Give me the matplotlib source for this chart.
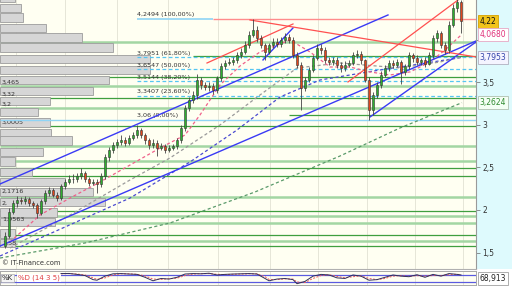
import matplotlib
matplotlib.use("Agg")
import matplotlib.pyplot as plt
from matplotlib.patches import Rectangle
import numpy as np

# candles (open, high, low, close), one per week
opens = [
    1.58, 1.70, 1.98, 2.08, 2.12, 2.10, 2.13, 2.08, 2.06, 1.97,
    2.10, 2.20, 2.23, 2.18, 2.14, 2.28, 2.33, 2.37, 2.36, 2.40,
    2.44, 2.36, 2.32, 2.33, 2.30, 2.40, 2.62, 2.70, 2.76, 2.80,
    2.82, 2.79, 2.85, 2.88, 2.94, 2.88, 2.82, 2.76, 2.79, 2.73,
    2.75, 2.71, 2.73, 2.75, 2.82, 2.96, 3.20, 3.29, 3.35, 3.53,
    3.47, 3.45, 3.46, 3.41, 3.55, 3.69, 3.73, 3.74, 3.76, 3.82,
    3.86, 3.94, 4.06, 4.12, 4.02, 3.94, 3.86, 3.94, 3.98, 3.95,
    4.00, 4.04, 4.00, 3.82, 3.71, 3.44, 3.53, 3.65, 3.79, 3.91,
    3.88, 3.76, 3.74, 3.76, 3.71, 3.67, 3.71, 3.73, 3.82, 3.84,
    3.76, 3.53, 3.18, 3.35, 3.47, 3.59, 3.67, 3.73, 3.71, 3.74,
    3.62, 3.69, 3.82, 3.79, 3.74, 3.76, 3.72, 3.82, 4.02, 4.08,
    3.94, 3.88, 4.18, 4.38, 4.45]
highs = [
    1.74, 2.02, 2.12, 2.16, 2.15, 2.17, 2.15, 2.11, 2.08, 2.13,
    2.24, 2.27, 2.26, 2.21, 2.31, 2.37, 2.41, 2.42, 2.44, 2.49,
    2.46, 2.39, 2.37, 2.36, 2.43, 2.66, 2.74, 2.80, 2.84, 2.88,
    2.86, 2.88, 2.92, 3.00, 2.97, 2.91, 2.85, 2.83, 2.82, 2.79,
    2.78, 2.76, 2.78, 2.85, 3.00, 3.24, 3.33, 3.40, 3.60, 3.56,
    3.51, 3.50, 3.49, 3.58, 3.73, 3.77, 3.79, 3.80, 3.86, 3.90,
    3.99, 4.10, 4.25, 4.16, 4.06, 3.97, 3.97, 4.02, 4.02, 4.04,
    4.08, 4.07, 4.03, 3.86, 3.74, 3.57, 3.68, 3.82, 3.95, 3.95,
    3.92, 3.80, 3.80, 3.80, 3.74, 3.75, 3.77, 3.86, 3.88, 3.87,
    3.78, 3.56, 3.39, 3.51, 3.63, 3.71, 3.77, 3.77, 3.78, 3.77,
    3.72, 3.86, 3.85, 3.82, 3.79, 3.80, 3.86, 4.06, 4.12, 4.10,
    3.98, 4.22, 4.42, 4.50, 4.47]
lows = [
    1.55, 1.67, 1.95, 2.04, 2.07, 2.07, 2.05, 2.02, 1.90, 1.94,
    2.07, 2.17, 2.15, 2.10, 2.12, 2.25, 2.30, 2.32, 2.33, 2.37,
    2.33, 2.28, 2.29, 2.20, 2.27, 2.37, 2.58, 2.67, 2.73, 2.77,
    2.75, 2.76, 2.82, 2.85, 2.85, 2.78, 2.72, 2.73, 2.64, 2.70,
    2.67, 2.68, 2.70, 2.72, 2.79, 2.93, 3.16, 3.26, 3.31, 3.42,
    3.41, 3.40, 3.37, 3.38, 3.52, 3.66, 3.70, 3.71, 3.73, 3.79,
    3.83, 3.91, 4.03, 3.98, 3.90, 3.76, 3.83, 3.90, 3.92, 3.92,
    3.97, 3.96, 3.79, 3.67, 3.18, 3.40, 3.50, 3.62, 3.76, 3.84,
    3.73, 3.70, 3.71, 3.67, 3.62, 3.64, 3.68, 3.70, 3.79, 3.72,
    3.50, 3.06, 3.12, 3.32, 3.44, 3.56, 3.64, 3.67, 3.68, 3.48,
    3.59, 3.66, 3.74, 3.70, 3.71, 3.68, 3.70, 3.79, 3.98, 3.90,
    3.84, 3.85, 4.15, 4.33, 4.08]
closes = [
    1.70, 1.98, 2.08, 2.12, 2.10, 2.13, 2.08, 2.06, 1.97, 2.10,
    2.20, 2.23, 2.18, 2.14, 2.28, 2.33, 2.37, 2.36, 2.40, 2.44,
    2.36, 2.32, 2.33, 2.30, 2.40, 2.62, 2.70, 2.76, 2.80, 2.82,
    2.79, 2.85, 2.88, 2.94, 2.88, 2.82, 2.76, 2.79, 2.73, 2.75,
    2.71, 2.73, 2.75, 2.82, 2.96, 3.20, 3.29, 3.35, 3.53, 3.47,
    3.45, 3.46, 3.41, 3.55, 3.69, 3.73, 3.74, 3.76, 3.82, 3.86,
    3.94, 4.06, 4.12, 4.02, 3.94, 3.86, 3.94, 3.98, 3.95, 4.00,
    4.04, 4.00, 3.82, 3.71, 3.44, 3.53, 3.65, 3.79, 3.91, 3.88,
    3.76, 3.74, 3.76, 3.71, 3.67, 3.71, 3.73, 3.82, 3.84, 3.76,
    3.53, 3.18, 3.35, 3.47, 3.59, 3.67, 3.73, 3.71, 3.74, 3.62,
    3.69, 3.82, 3.79, 3.74, 3.76, 3.72, 3.82, 4.02, 4.08, 3.94,
    3.88, 4.18, 4.38, 4.45, 4.22]

# moving averages at a few weeks
ma_short_x = [1.25, 8.75, 16.25, 23.75, 31.25, 38.75, 45, 48.75, 53.75, 58.75, 63.75,
              71.25, 76.25, 81.25, 86.25, 91.25, 96.25, 101.25, 106.25, 110, 114.25]
ma_short_y = [1.624, 1.941, 2.141, 2.329, 2.529, 2.729, 2.882, 3.118, 3.471, 3.694, 3.859,
              4.0, 3.859, 3.682, 3.682, 3.624, 3.588, 3.624, 3.741, 3.882, 4.068]
ma_mid_x = [1.25, 16.25, 31.25, 41.25, 53.75, 63.75, 73, 83.75, 98.75, 108.75, 114.25]
ma_mid_y = [1.553, 1.941, 2.353, 2.612, 3.0, 3.353, 3.671, 3.729, 3.671, 3.741, 3.80]
ma_blue_x = [-1.25, 15, 31.25, 46.25, 58, 68.75, 78.75, 93.75, 103.75, 114.25]
ma_blue_y = [1.459, 1.80, 2.141, 2.565, 2.941, 3.329, 3.529, 3.647, 3.718, 3.7953]
ma_long_x = [-1.25, 20, 41.25, 62.5, 83.75, 98.75, 114.25]
ma_long_y = [1.435, 1.612, 1.847, 2.212, 2.635, 2.965, 3.2624]

# support / resistance levels
level_values = [3.976, 3.812, 3.565, 3.459, 3.318, 3.20, 3.118, 2.988, 2.753, 2.576,
                2.494, 2.40, 2.153, 1.988, 1.929, 1.847, 1.706, 1.635, 1.576]
level_light = [1, 0, 0, 1, 0, 1, 0, 0, 1, 1, 0, 0, 1, 0, 1, 1, 0, 1, 0]
level_start = [-1.25, 47, -1.25, -1.25, -1.25, -1.25, 71, -1.25, -1.25, -1.25,
               -1.25, -1.25, -1.25, -1.25, -1.25, -1.25, -1.25, -1.25, -1.25]

# fibonacci retracement
fib_values = [4.2494, 3.7951, 3.6547, 3.5144, 3.3407, 3.06]
fib_labels = ["4,2494 (100,00%)", "3,7951 (61,80%)", "3,6547 (50,00%)",
              "3,5144 (38,20%)", "3,3407 (23,60%)", "3,06 (0,00%)"]

# trend lines: x0, y0, x1, y1
blue_lines = [(-1.25, 2.306, 95.75, 4.294), (-1.25, 1.576, 117.75, 3.988),
              (91.25, 3.094, 117.75, 3.976), (64.5, 3.765, 72, 4.141)]
red_lines = [(61.25, 4.235, 117.75, 3.80), (50.5, 3.729, 72, 4.188),
             (85.75, 3.506, 113.25, 4.47)]

# volume by price
vp_prices = [4.494, 4.376, 4.259, 4.141, 4.024, 3.906, 3.776, 3.647, 3.529, 3.40, 3.282,
             3.153, 3.024, 2.906, 2.812, 2.682, 2.565, 2.447, 2.329, 2.212, 2.094, 1.976,
             1.859, 1.729, 1.612]
vp_volume = [15, 21, 23, 46, 82, 113, 150, 150, 109, 93, 50, 38, 50, 51, 72, 43, 15, 32,
             65, 93, 105, 57, 55, 15, 15]
vp_labels = ["3,465", "3,32", "3,2", "3,0005", "2,1716", "2,", "1,9563", "1,58"]
vp_label_y = [3.506, 3.365, 3.247, 3.035, 2.224, 2.082, 1.894, 1.612]

month_lines = [2.75, 15, 28, 40.75, 53.25, 66.25, 78.25, 90.5, 102.5, 114.5]

# stochastic
stoch_x = [14, 16, 18, 20, 22, 23, 25, 27, 29, 31, 33, 35, 37, 39, 41, 43, 45, 47, 49, 51,
           53, 55, 57, 59, 61, 63, 65, 66, 68, 70, 72, 73, 75, 77, 79, 81, 83, 85, 87, 89,
           91, 93, 95, 97, 99, 101, 103, 105, 107, 109, 111, 113, 114]
stoch_k = [92, 93, 85, 75, 40, 35, 70, 90, 92, 88, 85, 60, 30, 50, 45, 60, 88, 92, 90, 95,
           80, 85, 88, 90, 92, 88, 50, 30, 45, 50, 40, 5, 25, 70, 85, 80, 55, 50, 80, 70,
           35, 40, 60, 80, 70, 65, 82, 60, 85, 70, 92, 85, 80]
stoch_d = [90, 92, 88, 80, 55, 42, 55, 80, 90, 90, 86, 72, 45, 42, 48, 52, 75, 88, 91, 92,
           86, 83, 86, 88, 90, 90, 65, 42, 40, 46, 45, 20, 15, 50, 75, 82, 68, 55, 65, 72,
           50, 40, 50, 70, 74, 68, 74, 70, 75, 75, 82, 86, 82]

W, H = 512, 288
fig = plt.figure(figsize=(W / 100, H / 100), dpi=100)
fig.patch.set_facecolor("white")
plt.rcParams["font.family"] = "DejaVu Sans"

fig.patches.append(Rectangle((476 / W, 19 / H), 36 / W, 269 / H, transform=fig.transFigure,
                             facecolor="#defafd", edgecolor="none", zorder=-5))

ax = fig.add_axes([0, 19 / H, 476 / W, 269 / H])
ax.set_facecolor("#fffff2")
ax.set_xlim(-1.25, 117.75)
ax.set_ylim(1.306, 4.47)

for m in month_lines:
    ax.axvline(m, color="#e6e6d8", lw=0.7, zorder=1)

for v, light, s in zip(level_values, level_light, level_start):
    if light:
        ax.hlines(v, s, 117.75, color="#a3d6a3", lw=1.8, zorder=2)
    else:
        ax.hlines(v, s, 117.75, color="#3f9f3f", lw=0.9, zorder=2)

# volume profile
ax.barh(vp_prices, np.array(vp_volume) / 476, height=0.105, left=0,
        transform=ax.get_yaxis_transform(), color="#d6d6d6", edgecolor="#9c9c9c",
        lw=0.6, zorder=3)
for lab, y in zip(vp_labels, vp_label_y):
    ax.text(0.004, y, lab, transform=ax.get_yaxis_transform(), fontsize=4.6,
            color="#333333", va="center", ha="left", zorder=4)

# fibonacci
fx = 33
ax.hlines(fib_values[0], fx, 52, color="#8fd4f5", lw=1.2, zorder=4)
ax.hlines(fib_values[0], 52, 117.75, color="#ff8c8c", lw=1.0, zorder=4)
for v in fib_values[1:-1]:
    ax.hlines(v, fx, 117.75, color="#55c6f2", lw=0.9, linestyles=(0, (3, 2)), zorder=4)
ax.hlines(fib_values[-1], -1.25, 117.75, color="#8fd4f5", lw=1.0, zorder=4)
for v, lab in zip(fib_values, fib_labels):
    ax.text(fx, v + 0.02, lab, fontsize=4.6, color="#333333", va="bottom", ha="left", zorder=5)

# moving averages
ax.plot(ma_long_x, ma_long_y, color="#5a9a6a", lw=0.9, ls=(0, (2.5, 2)), zorder=5)
ax.plot(ma_blue_x, ma_blue_y, color="#4a4ad0", lw=0.9, ls=(0, (2.5, 2)), zorder=5)
ax.plot(ma_mid_x, ma_mid_y, color="#9a9a9a", lw=0.9, ls=(0, (2.5, 2)), zorder=5)
ax.plot(ma_short_x, ma_short_y, color="#f0608a", lw=0.9, ls=(0, (2.5, 2)), zorder=5)

for x0, y0, x1, y1 in blue_lines:
    ax.plot([x0, x1], [y0, y1], color="#3a3af5", lw=1.0, zorder=6)
for x0, y0, x1, y1 in red_lines:
    ax.plot([x0, x1], [y0, y1], color="#ff5050", lw=0.9, zorder=6)

# candles
x = np.arange(len(closes))
o = np.array(opens)
c = np.array(closes)
ax.vlines(x, lows, highs, color="#444444", lw=0.6, zorder=7)
colors = np.where(c >= o, "#2fae2f", "#e0461c")
body = np.where(np.abs(c - o) < 0.01, 0.01, c - o)
ax.bar(x, body, bottom=o, width=0.72, color=colors, edgecolor="#333333", lw=0.4, zorder=8)

ax.text(0.004, 0.013, "© IT-Finance.com", transform=ax.transAxes, fontsize=4.8,
        color="#333333", va="bottom", ha="left", zorder=9)

# right axis
ax.yaxis.tick_right()
ax.set_yticks([1.5, 2, 2.5, 3, 3.5, 4])
ax.set_yticklabels(["1,5", "2", "2,5", "3", "3,5", ""])
ax.tick_params(axis="y", labelsize=5.5, length=3, width=0.5, color="#666666",
               labelcolor="#333333", pad=1.5)
ax.set_xticks([])
for side in ["left", "top"]:
    ax.spines[side].set_visible(False)
ax.spines["right"].set_color("#9a9a9a")
ax.spines["bottom"].set_color("#b0b0b0")
ax.spines["right"].set_linewidth(0.8)

tags = [("4,22", 4.22, "#111111", "#f2c41a", "#d4a000"),
        ("4,0680", 4.068, "#e0307a", "#ffffff", "#e6a8c4"),
        ("3,7953", 3.7953, "#3344aa", "#f4f4ff", "#b0b0c0"),
        ("3,2624", 3.2624, "#2f8a2f", "#f4fff4", "#b0c0b0")]
for lab, v, tc, fc, ec in tags:
    ax.text(1.008, v, lab, transform=ax.get_yaxis_transform(), fontsize=5.5, color=tc,
            va="center", ha="left", zorder=10, clip_on=False,
            bbox=dict(boxstyle="square,pad=0.25", fc=fc, ec=ec, lw=0.6))

# stochastic panel
ax2 = fig.add_axes([0, 3 / H, 476 / W, 14 / H])
ax2.set_facecolor("#fffff2")
ax2.set_xlim(-1.25, 117.75)
ax2.set_ylim(-6, 114)
for m in month_lines:
    ax2.axvline(m, color="#e6e6d8", lw=0.7, zorder=1)
ax2.axhline(80, color="#5a5ae0", lw=0.9, zorder=2)
ax2.axhline(20, color="#5a5ae0", lw=0.9, zorder=2)
ax2.plot(stoch_x, stoch_d, color="#f05a5a", lw=0.7, ls=(0, (2, 1.5)), zorder=3)
ax2.plot(stoch_x, stoch_k, color="#30305a", lw=0.7, zorder=4)
ax2.set_xticks([])
ax2.set_yticks([])
for s in ax2.spines.values():
    s.set_color("#a8a8a8")
    s.set_linewidth(0.7)
ax2.text(0.004, 0.5, "%K", transform=ax2.transAxes, fontsize=5, color="#222222",
         va="center", ha="left", zorder=6,
         bbox=dict(boxstyle="square,pad=0.15", fc="#f4f4f4", ec="#b0b0b0", lw=0.5))
ax2.text(0.038, 0.5, "%D (14 3 5)", transform=ax2.transAxes, fontsize=5, color="#e04040",
         va="center", ha="left", zorder=6,
         bbox=dict(boxstyle="square,pad=0.15", fc="#ffffff", ec="none", lw=0))
ax2.text(1.008, 0.45, "68,913", transform=ax2.transAxes, fontsize=5.5, color="#222222",
         va="center", ha="left", clip_on=False,
         bbox=dict(boxstyle="square,pad=0.25", fc="#ffffff", ec="#a0a0a0", lw=0.6))

fig.savefig("out.png", dpi=100)
